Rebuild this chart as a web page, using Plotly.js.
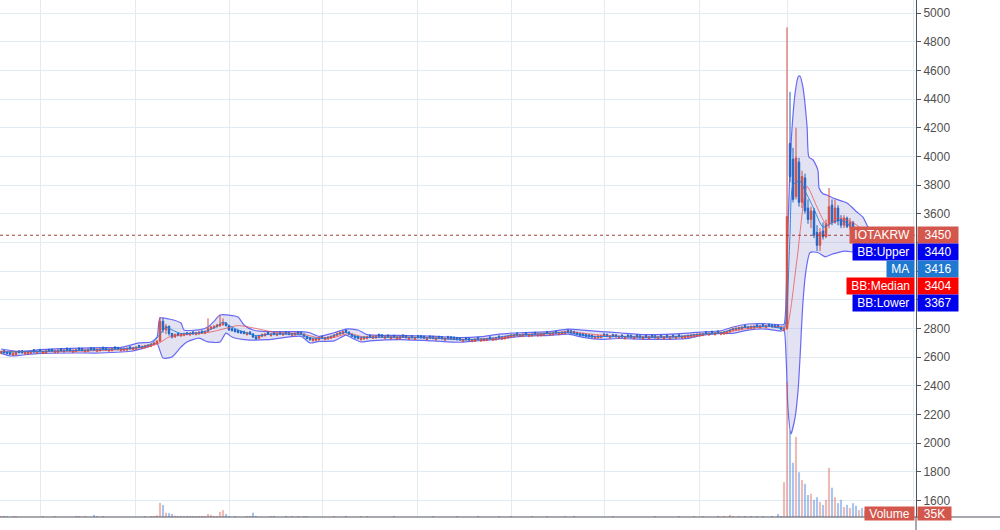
<!DOCTYPE html>
<html><head><meta charset="utf-8">
<script src="https://cdn.plot.ly/plotly-3.0.1.min.js"></script>
<style>html,body{margin:0;padding:0;background:#fff}#chart{width:1000px;height:530px}</style>
</head><body><div id="chart"></div>
<script>
const symbol = 'IOTAKRW';
const open = [
2628,2645,2635,2634,2615,2619,2643,2644,2623,2622,
2628,2651,2630,2652,2627,2629,2653,2654,2632,2634,
2658,2637,2661,2656,2634,2640,2663,2660,2637,2641,
2665,2662,2641,2645,2668,2663,2643,2646,2670,2667,
2645,2648,2650,2671,2652,2656,2681,2661,2666,2672,
2676,2688,2698,2712,2850,2790,2815,2765,2740,2765,
2748,2752,2770,2755,2775,2758,2762,2781,2766,2780,
2798,2803,2812,2818,2826,2838,2818,2798,2792,2785,
2780,2778,2757,2775,2762,2742,2732,2745,2750,2773,
2750,2771,2752,2773,2755,2775,2771,2752,2756,2775,
2773,2760,2744,2735,2715,2717,2722,2745,2723,2727,
2732,2741,2752,2760,2765,2788,2774,2759,2748,2743,
2722,2727,2730,2751,2732,2735,2758,2755,2732,2753,
2729,2751,2727,2730,2753,2749,2725,2748,2725,2749,
2748,2745,2723,2746,2743,2721,2744,2741,2719,2743,
2741,2738,2735,2733,2711,2734,2731,2709,2712,2736,
2713,2715,2717,2740,2719,2722,2746,2725,2729,2735,
2742,2745,2767,2744,2747,2769,2745,2748,2772,2749,
2750,2753,2777,2755,2757,2780,2759,2762,2765,2787,
2783,2778,2771,2765,2763,2758,2755,2753,2732,2735,
2737,2761,2758,2735,2757,2755,2732,2753,2729,2753,
2751,2729,2753,2749,2727,2751,2729,2752,2749,2727,
2751,2728,2752,2729,2753,2731,2755,2733,2735,2739,
2742,2745,2747,2749,2752,2776,2755,2779,2757,2781,
2759,2762,2765,2777,2787,2790,2793,2797,2821,2799,
2801,2803,2825,2805,2828,2807,2829,2825,2823,2821,
2807,2787,
2800,4090,3980,3720,3960,3680,3850,3640,3560,3620,3470,3380,3480,3440,3530,3660,
3540,3640,3560,3520,3570,3510,3540,3430,3380,3420,3400,3430,3455,3430,3445,3435];
const high = [
2646,2650,2641,2640,2633,2641,2649,2650,2642,2644,
2646,2657,2648,2658,2646,2651,2659,2660,2651,2654,
2664,2656,2667,2662,2654,2658,2669,2666,2656,2661,
2671,2668,2661,2664,2674,2669,2662,2666,2676,2673,
2664,2666,2668,2677,2671,2676,2687,2681,2686,2691,
2696,2706,2718,2880,2875,2830,2820,2770,2765,2770,
2766,2771,2776,2774,2781,2776,2781,2787,2786,2870,
2816,2822,2832,2894,2870,2845,2825,2804,2798,2791,
2786,2784,2776,2781,2768,2748,2756,2764,2768,2779,
2768,2777,2771,2779,2774,2781,2777,2771,2774,2781,
2779,2766,2750,2741,2734,2736,2741,2751,2742,2746,
2751,2761,2771,2778,2785,2794,2780,2765,2754,2749,
2741,2746,2748,2757,2751,2754,2764,2761,2751,2759,
2748,2757,2746,2749,2759,2755,2744,2754,2744,2755,
2754,2751,2742,2752,2749,2740,2750,2747,2738,2749,
2747,2744,2741,2739,2730,2740,2737,2728,2731,2742,
2732,2734,2736,2746,2738,2741,2752,2744,2748,2754,
2761,2764,2773,2763,2766,2775,2764,2767,2778,2768,
2769,2772,2783,2774,2776,2786,2778,2781,2784,2793,
2789,2784,2777,2771,2769,2764,2761,2759,2751,2754,
2756,2767,2764,2754,2763,2761,2751,2759,2748,2759,
2757,2748,2759,2755,2746,2757,2748,2758,2755,2746,
2757,2747,2758,2748,2759,2750,2761,2752,2754,2758,
2761,2764,2766,2768,2771,2782,2774,2785,2776,2787,
2778,2781,2784,2796,2806,2809,2812,2816,2827,2818,
2820,2822,2831,2824,2834,2826,2835,2831,2829,2827,
2813,2806,
4900,4450,4060,4200,3990,3900,3880,3700,3650,3640,3520,3500,3540,3560,3780,3700,
3700,3660,3590,3590,3580,3570,3550,3450,3440,3450,3450,3470,3470,3460,3460,3470];
const low = [
2622,2624,2619,2613,2609,2613,2626,2624,2617,2616,
2622,2630,2624,2632,2621,2623,2636,2634,2626,2628,
2639,2631,2641,2637,2628,2634,2644,2640,2631,2635,
2646,2644,2635,2639,2648,2644,2637,2640,2651,2649,
2639,2642,2644,2652,2646,2650,2662,2655,2660,2666,
2670,2682,2692,2705,2770,2760,2750,2730,2735,2745,
2742,2746,2752,2749,2756,2752,2756,2762,2760,2774,
2792,2797,2806,2812,2820,2814,2784,2779,2772,2766,
2762,2759,2751,2756,2734,2720,2726,2739,2744,2754,
2744,2752,2746,2754,2749,2756,2752,2746,2750,2756,
2754,2739,2724,2715,2709,2711,2716,2726,2717,2721,
2726,2735,2746,2754,2759,2769,2754,2739,2729,2724,
2716,2721,2724,2732,2726,2729,2739,2736,2726,2734,
2723,2732,2721,2724,2734,2730,2719,2729,2719,2730,
2729,2726,2717,2727,2724,2715,2725,2722,2713,2724,
2722,2719,2716,2714,2705,2715,2712,2703,2706,2717,
2707,2709,2711,2721,2713,2716,2727,2719,2723,2729,
2736,2739,2748,2738,2741,2750,2739,2742,2753,2743,
2744,2747,2758,2749,2751,2761,2753,2756,2759,2768,
2764,2759,2752,2746,2744,2739,2736,2734,2726,2729,
2731,2742,2739,2729,2738,2736,2726,2734,2723,2734,
2732,2723,2734,2730,2721,2732,2723,2733,2730,2721,
2732,2722,2733,2723,2734,2725,2736,2727,2729,2733,
2736,2739,2741,2743,2746,2757,2749,2760,2751,2762,
2753,2756,2759,2771,2781,2784,2787,2791,2802,2793,
2795,2797,2806,2799,2809,2801,2810,2806,2804,2802,
2788,2781,
2790,3820,3680,3700,3650,3640,3600,3530,3500,3430,3340,3340,3420,3430,3500,3520,
3530,3520,3500,3500,3500,3490,3400,3360,3370,3390,3390,3420,3420,3420,3425,3430];
const close = [
2640,2630,2625,2620,2628,2635,2632,2630,2636,2638,
2640,2636,2642,2638,2640,2645,2642,2640,2645,2648,
2645,2650,2647,2643,2648,2652,2650,2646,2650,2655,
2652,2650,2655,2658,2654,2650,2656,2660,2657,2655,
2658,2660,2662,2658,2665,2670,2668,2675,2680,2685,
2690,2700,2712,2850,2790,2815,2765,2740,2758,2752,
2760,2765,2758,2768,2762,2770,2775,2768,2780,2800,
2810,2815,2825,2830,2840,2820,2790,2785,2778,2772,
2768,2765,2770,2762,2740,2728,2750,2758,2762,2760,
2762,2758,2765,2760,2768,2762,2758,2765,2768,2762,
2760,2745,2730,2722,2728,2730,2735,2732,2736,2740,
2745,2755,2765,2772,2778,2775,2760,2745,2735,2730,
2735,2740,2742,2738,2745,2748,2745,2742,2745,2740,
2742,2738,2740,2743,2740,2736,2738,2735,2738,2736,
2735,2732,2736,2733,2730,2734,2731,2728,2732,2730,
2728,2725,2722,2720,2724,2721,2718,2722,2725,2723,
2726,2728,2730,2727,2732,2735,2733,2738,2742,2748,
2755,2758,2754,2757,2760,2756,2758,2761,2759,2762,
2763,2766,2764,2768,2770,2767,2772,2775,2778,2774,
2770,2765,2758,2752,2750,2745,2742,2740,2745,2748,
2750,2748,2745,2748,2744,2742,2745,2740,2742,2740,
2738,2742,2740,2736,2740,2738,2742,2739,2736,2740,
2738,2741,2739,2742,2740,2744,2742,2746,2748,2752,
2755,2758,2760,2762,2765,2763,2768,2766,2770,2768,
2772,2775,2778,2790,2800,2803,2806,2810,2808,2812,
2814,2816,2812,2818,2815,2820,2816,2812,2810,2808,
2794,2800,
3580,3860,3700,3990,3680,3860,3620,3560,3620,3450,3380,3470,3440,3530,3650,3540,
3640,3550,3520,3570,3510,3540,3420,3380,3420,3400,3440,3455,3430,3445,3435,3450];
// volume in thousands
const volume = [
12,12,10,0,12,12,0,0,0,0,
0,0,0,0,12,0,0,0,12,0,
0,0,0,0,0,12,10,0,12,0,
0,25,12,0,12,0,0,0,0,0,
0,0,0,0,0,0,0,0,12,0,
12,12,20,165,140,50,45,35,15,12,
12,10,12,12,10,12,12,10,12,35,
25,12,12,60,80,35,12,0,12,0,
0,0,12,12,50,12,0,0,0,0,
12,12,0,0,0,12,0,12,0,12,
0,12,12,0,0,0,0,0,0,0,
0,12,0,0,0,12,0,0,0,0,
12,0,12,0,0,0,0,0,0,0,
0,12,0,0,0,0,0,0,0,0,
0,0,0,0,12,0,0,0,0,0,
0,0,12,0,0,0,0,0,0,12,
0,0,0,0,0,0,12,0,0,0,
12,0,0,0,0,0,0,12,0,0,
0,0,12,0,0,0,0,0,12,0,
0,12,0,0,0,0,0,0,0,0,
0,0,0,0,12,0,0,0,0,0,
0,0,0,0,0,0,0,0,12,0,
0,0,0,0,0,0,12,0,0,0,
0,12,0,0,12,0,0,0,0,12,
0,12,0,24,12,0,12,0,12,0,
12,0,12,0,12,0,0,12,0,35,
12,405,
1570,1000,630,930,520,430,385,255,270,200,230,175,140,200,570,340,
230,160,200,115,140,105,160,130,80,105,70,60,50,45,40,35];

// Bollinger bands and moving average (x = candle number)
const bbUpperX = [0,6,13,20,33,40,46,50,52,53,56,60,61,66,69,71,73,79,81,84,89,100,103,106,111,115,119,122,133,144,153,160,166,173,183,189,194,200,206,215,229,233,240,244,249,255,260,261,
262,263,263.7,264.7,265.7,266.3,267.3,268.7,269.3,270.7,272.3,272.7,274,275.3,277.3,282,285.3,287.3,289,290.3,293];
const bbUpper = [2657,2640,2652,2660,2666,2668,2699,2706,2740,2873,2866,2838,2790,2790,2810,2850,2894,2880,2824,2789,2778,2778,2770,2745,2770,2796,2789,2757,2752,2746,2737,2743,2760,2770,2778,2796,2789,2778,2770,2757,2768,2775,2784,2810,2831,2833,2826,2828,
3300,3926,4205,4442,4554,4561,4484,4205,3996,3975,3905,3780,3740,3731,3710,3675,3612,3577,3507,3460,3440];
const bbLowerX = [0,3,6,13,26,33,44,50,52,54,57,60,62,66,69,73,75,77,82,89,100,103,106,111,115,117,120,123,133,144,153,160,166,173,183,189,194,200,206,215,229,233,240,244,249,255,260,261,
261.7,262.3,263.3,264.7,265.7,266.3,267.3,268.3,269.7,272.3,274.7,277.3,281.3,285.3,288,293];
const bbLower = [2626,2608,2612,2626,2629,2629,2643,2680,2695,2594,2601,2671,2706,2733,2706,2706,2768,2740,2720,2722,2745,2699,2710,2713,2754,2733,2706,2713,2722,2713,2704,2716,2726,2745,2752,2760,2738,2724,2730,2724,2731,2750,2765,2766,2789,2796,2782,2786,
2600,2250,2064,2180,2370,2580,2978,3200,3330,3330,3300,3320,3340,3330,3350,3367];
const bbMedianX = [0,13,26,40,46,52,56,62,69,73,79,85,92,100,106,111,116,121,133,144,153,163,173,183,190,196,203,215,229,236,242,249,255,261,
262,265.3,268.7,272,275.3,278.7,282,285.3,289,293];
const bbMedian = [2640,2638,2642,2652,2665,2690,2740,2760,2772,2790,2820,2800,2770,2762,2735,2738,2765,2740,2740,2735,2722,2728,2755,2765,2776,2762,2748,2740,2745,2762,2775,2800,2812,2812,
2810,3277,3790,3647,3521,3570,3556,3521,3450,3404];
const maX = [0,13,26,40,46,50,53,55,57,60,66,69,72,74,76,79,85,90,100,103,108,113,115,118,122,133,144,153,163,170,180,188,193,197,205,215,226,233,240,244,250,256,261,
262,263,264,266.3,268,270.7,274,277.3,279.7,282,285.3,293];
const ma = [2635,2640,2647,2658,2668,2690,2760,2810,2790,2765,2770,2785,2815,2845,2820,2790,2750,2760,2758,2735,2732,2765,2772,2745,2738,2740,2733,2722,2730,2752,2762,2773,2755,2744,2745,2739,2744,2760,2770,2795,2812,2815,2805,
2950,3450,3800,3830,3760,3647,3507,3540,3555,3535,3466,3416];
// price scale ticks
const yTickVals = [1600,1800,2000,2200,2400,2600,2800,3000,3200,3400,3600,3800,4000,4200,4400,4600,4800,5000];

// ---------- rendering ----------
const FONT = 'Liberation Sans, Arial, sans-serif';
const GRID = '#e1ebf2';
const AXIS = '#50535e';
const INC = '#d44f42', DEC = '#1f63c6';
const Y_RANGE = [1485, 5091];
const PLOT_H = 517, PLOT_W = 916;
const xGridTicks = [13.33, 44.67, 76, 107.33, 138.67, 170, 201.33, 232.67, 262, 304];

const idx = close.map((_, i) => i);
const volColors = close.map((c, i) => c >= open[i] ? 'rgba(214,84,72,0.4)' : 'rgba(40,110,210,0.4)');
const bandLine = {color: 'rgba(90,90,245,0.9)', width: 1.2, shape: 'spline', smoothing: 0.6};

const traces = [
  {type: 'scatter', mode: 'lines', x: bbLowerX, y: bbLower, line: bandLine, hoverinfo: 'skip'},
  {type: 'scatter', mode: 'lines', x: bbUpperX, y: bbUpper, line: bandLine, fill: 'tonexty',
   fillcolor: 'rgba(160,160,215,0.3)', hoverinfo: 'skip'},
  {type: 'bar', x: idx, y: volume, yaxis: 'y2', marker: {color: volColors, line: {width: 0}}, hoverinfo: 'skip'},
  {type: 'candlestick', x: idx, open: open, high: high, low: low, close: close, yaxis: 'y3',
   increasing: {line: {color: INC, width: 1}, fillcolor: INC},
   decreasing: {line: {color: DEC, width: 1}, fillcolor: DEC}, whiskerwidth: 0, hoverinfo: 'skip'},
  {type: 'scatter', mode: 'lines', x: bbMedianX, y: bbMedian, yaxis: 'y3',
   line: {color: 'rgba(238,80,80,0.75)', width: 1, shape: 'spline', smoothing: 0.6}, hoverinfo: 'skip'},
  {type: 'scatter', mode: 'lines', x: maX, y: ma, yaxis: 'y3',
   line: {color: 'rgba(35,125,215,0.9)', width: 1, shape: 'spline', smoothing: 0.6}, hoverinfo: 'skip'}
];

const last = a => a[a.length - 1];
const lastClose = last(close);
const labels = [
  {name: symbol, value: lastClose, color: '#d3574d'},
  {name: 'BB:Upper', value: last(bbUpper), color: '#0000f0'},
  {name: 'MA', value: last(ma), color: '#2079d0'},
  {name: 'BB:Median', value: last(bbMedian), color: '#ff0000'},
  {name: 'BB:Lower', value: last(bbLower), color: '#0000f0'}
];
const toPaper = v => (v - Y_RANGE[0]) / (Y_RANGE[1] - Y_RANGE[0]);
const baseP = toPaper(lastClose);
const STEP = 17;
// tick labels hidden behind the stacked value boxes (as on the reference)
const stackTopP = baseP + 14 / PLOT_H, stackBotP = baseP - (STEP * (labels.length - 1) + 14) / PLOT_H;
const yTickText = yTickVals.map(v => {
  const p = toPaper(v);
  return (p <= stackTopP && p >= stackBotP) ? '' : String(v);
});

const annotations = [], shapes = [];
shapes.push({type: 'line', xref: 'paper', yref: 'y', x0: 0, x1: 1, y0: lastClose, y1: lastClose,
  line: {color: 'rgba(150,45,35,0.9)', width: 1, dash: 'dot'}});
shapes.push({type: 'line', xref: 'paper', yref: 'paper', x0: 0, x1: 1000 / PLOT_W, y0: 0, y1: 0,
  line: {color: AXIS, width: 1}});
shapes.push({type: 'line', xref: 'paper', yref: 'paper', x0: 1, x1: 1, y0: 0, y1: -13 / PLOT_H,
  line: {color: AXIS, width: 1}});

function addLabel(name, valueText, color, yP, valueWidth, boxH) {
  annotations.push({xref: 'paper', yref: 'paper', x: 1, y: yP, xanchor: 'right', yanchor: 'middle', xshift: -1,
    text: '\u00a0' + name + '\u00a0', showarrow: false, bgcolor: color, borderpad: 1, height: boxH,
    font: {family: FONT, size: 12, color: '#ffffff'}});
  annotations.push({xref: 'paper', yref: 'paper', x: 1, y: yP, xanchor: 'left', yanchor: 'middle', xshift: 1,
    text: valueText, showarrow: false, bgcolor: color, borderpad: 1, height: boxH, width: valueWidth, align: 'center',
    font: {family: FONT, size: 12, color: '#ffffff'}});
  shapes.push({type: 'line', xref: 'paper', yref: 'paper', x0: 1 + 1 / PLOT_W, x1: 1 + 5 / PLOT_W, y0: yP, y1: yP,
    line: {color: '#ffffff', width: 1}});
}
labels.forEach((lb, k) => addLabel(lb.name, String(lb.value), lb.color, baseP - STEP * k / PLOT_H, 38, 14));
addLabel('Volume', last(volume) + 'K', '#d3574d', 4 / PLOT_H, 31, 11);

const layout = {
  width: 1000, height: 530,
  margin: {l: 0, r: 84, t: 0, b: 13, pad: 0},
  paper_bgcolor: '#ffffff', plot_bgcolor: '#ffffff',
  showlegend: false, bargap: 0.3,
  font: {family: FONT},
  xaxis: {range: [-1 / 3, 305], tickmode: 'array', tickvals: xGridTicks, showticklabels: false, ticks: '',
    showgrid: true, gridcolor: GRID, gridwidth: 1, zeroline: false, showline: false,
    rangeslider: {visible: false}, fixedrange: true},
  yaxis: {side: 'right', range: Y_RANGE, tickmode: 'array', tickvals: yTickVals, ticktext: yTickText,
    showgrid: true, gridcolor: GRID, gridwidth: 1,
    zeroline: false, showline: true, linecolor: AXIS, linewidth: 1, ticks: 'outside', ticklen: 4,
    tickcolor: AXIS, tickfont: {family: FONT, size: 12, color: '#4f4f4f'}, fixedrange: true},
  yaxis2: {overlaying: 'y', range: [0, 6000], visible: false, fixedrange: true},
  yaxis3: {overlaying: 'y', range: Y_RANGE, visible: false, fixedrange: true},
  shapes: shapes,
  annotations: annotations
};

Plotly.newPlot('chart', traces, layout, {staticPlot: true, displayModeBar: false});
</script>
</body></html>
